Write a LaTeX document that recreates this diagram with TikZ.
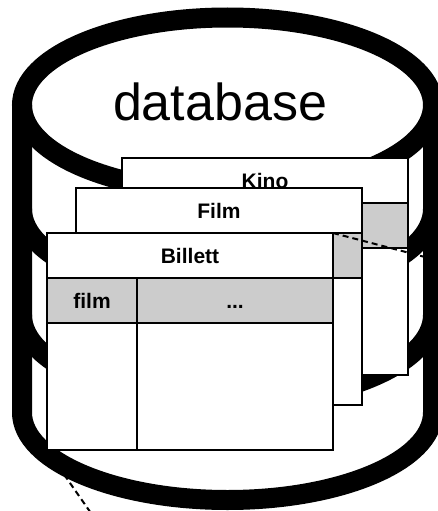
\documentclass[tikz,border=0pt]{standalone}
\usepackage{fontspec}
\setmainfont{Liberation Sans}
\usetikzlibrary{positioning}
\definecolor{tblGrey}{RGB}{204,204,204}

\begin{document}
\begin{tikzpicture}[x=1pt, y=-1pt,
    wall/.style={line width=20pt},
    cell/.style={rectangle, draw, fill=white, line width=1.6pt, outer sep=0pt, inner sep=0pt,
                 minimum height=45pt, text height=15pt, text depth=0pt,
                 font=\fontsize{21}{25}\selectfont\bfseries},
    wide/.style={minimum width=286pt},
    headcell/.style={cell, wide},
    greycell/.style={cell, fill=tblGrey},
    bodycell/.style={cell, minimum height=127pt},
    link/.style={line width=2pt, dash pattern=on 6pt off 4pt}
  ]
  \useasboundingbox (0,0) rectangle (438,511);
  \clip (0,0) rectangle (438,511);

  % the can
  \draw[wall] (227.5,105) ellipse [x radius=205.5, y radius=87.5];
  \draw[wall] (22,105) -- (22,412.5) arc[start angle=180, end angle=0, x radius=205.5, y radius=87.5] -- (433,105);
  \foreach \ylev in {209,315}
    \draw[wall] (22,\ylev) arc[start angle=180, end angle=0, x radius=205.5, y radius=87.5];
  \node[font=\fontsize{52}{60}\selectfont, anchor=base] (dbLabel) at (220,120) {database};

  % tables, back to front
  \node[headcell, anchor=north west] (kinoHead) at (122,158) {Kino};
  \node[greycell, wide, below=0pt of kinoHead] (kinoKeys) {};
  \node[bodycell, wide, below=0pt of kinoKeys] (kinoRows) {};

  \node[headcell, anchor=north west] (filmHead) at (76,188) {Film};
  \node[greycell, wide, below=0pt of filmHead] (filmKeys) {};
  \node[bodycell, wide, below=0pt of filmKeys] (filmRows) {};

  \node[headcell, anchor=north west] (billHead) at (47,233) {Billett};
  \node[greycell, minimum width=90pt, anchor=north west] (billFilm) at (billHead.south west) {film};
  \node[greycell, minimum width=196pt, right=0pt of billFilm] (billMore) {...};
  \node[bodycell, minimum width=90pt, below=0pt of billFilm] (billFilmRows) {};
  \node[bodycell, minimum width=196pt, below=0pt of billMore] (billMoreRows) {};

  % references leaving the can
  \coordinate (wallR) at (425,257);
  \coordinate (outBL) at (93,516);
  \draw[link] (billHead.north east) -- (wallR);
  \draw[link] (billFilmRows.south west) -- (outBL);
\end{tikzpicture}
\end{document}
